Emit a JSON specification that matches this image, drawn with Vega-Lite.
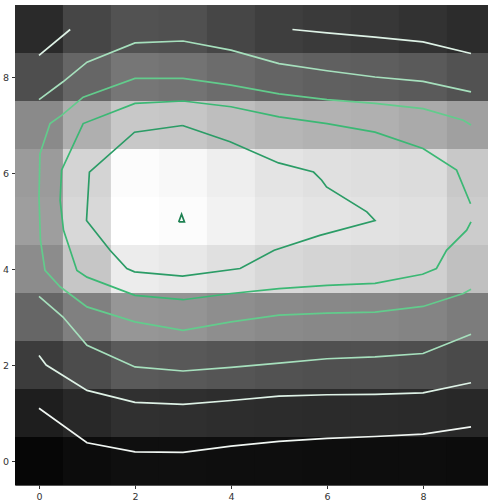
{
  "$schema": "https://vega.github.io/schema/vega-lite/v6.json",
  "autosize": "none",
  "padding": {"left": 15, "top": 5, "right": 0, "bottom": 16},
  "width": 473,
  "height": 480,
  "background": "white",
  "view": {"stroke": "#555", "strokeWidth": 1},
  "config": {
    "axis": {
      "grid": false,
      "domain": false,
      "ticks": true,
      "tickSize": 3.5,
      "tickColor": "#333",
      "labelColor": "#333",
      "labelFont": "DejaVu Sans",
      "labelFontSize": 9.5,
      "labelPadding": 3,
      "title": null
    }
  },
  "datasets": {
    "cells": [
      {"row":9,"col":0,"v":42},{"row":9,"col":1,"v":70},{"row":9,"col":2,"v":82},{"row":9,"col":3,"v":80},{"row":9,"col":4,"v":70},{"row":9,"col":5,"v":62},{"row":9,"col":6,"v":58},{"row":9,"col":7,"v":55},{"row":9,"col":8,"v":50},{"row":9,"col":9,"v":44},
      {"row":8,"col":0,"v":78},{"row":8,"col":1,"v":102},{"row":8,"col":2,"v":118},{"row":8,"col":3,"v":115},{"row":8,"col":4,"v":108},{"row":8,"col":5,"v":100},{"row":8,"col":6,"v":96},{"row":8,"col":7,"v":94},{"row":8,"col":8,"v":90},{"row":8,"col":9,"v":82},
      {"row":7,"col":0,"v":138},{"row":7,"col":1,"v":175},{"row":7,"col":2,"v":200},{"row":7,"col":3,"v":198},{"row":7,"col":4,"v":190},{"row":7,"col":5,"v":182},{"row":7,"col":6,"v":178},{"row":7,"col":7,"v":176},{"row":7,"col":8,"v":170},{"row":7,"col":9,"v":160},
      {"row":6,"col":0,"v":155},{"row":6,"col":1,"v":212},{"row":6,"col":2,"v":252},{"row":6,"col":3,"v":248},{"row":6,"col":4,"v":238},{"row":6,"col":5,"v":228},{"row":6,"col":6,"v":224},{"row":6,"col":7,"v":222},{"row":6,"col":8,"v":220},{"row":6,"col":9,"v":200},
      {"row":5,"col":0,"v":158},{"row":5,"col":1,"v":216},{"row":5,"col":2,"v":255},{"row":5,"col":3,"v":252},{"row":5,"col":4,"v":242},{"row":5,"col":5,"v":232},{"row":5,"col":6,"v":228},{"row":5,"col":7,"v":226},{"row":5,"col":8,"v":224},{"row":5,"col":9,"v":204},
      {"row":4,"col":0,"v":140},{"row":4,"col":1,"v":198},{"row":4,"col":2,"v":236},{"row":4,"col":3,"v":232},{"row":4,"col":4,"v":224},{"row":4,"col":5,"v":216},{"row":4,"col":6,"v":212},{"row":4,"col":7,"v":210},{"row":4,"col":8,"v":208},{"row":4,"col":9,"v":192},
      {"row":3,"col":0,"v":102},{"row":3,"col":1,"v":128},{"row":3,"col":2,"v":150},{"row":3,"col":3,"v":148},{"row":3,"col":4,"v":142},{"row":3,"col":5,"v":138},{"row":3,"col":6,"v":136},{"row":3,"col":7,"v":135},{"row":3,"col":8,"v":132},{"row":3,"col":9,"v":124},
      {"row":2,"col":0,"v":60},{"row":2,"col":1,"v":76},{"row":2,"col":2,"v":90},{"row":2,"col":3,"v":88},{"row":2,"col":4,"v":85},{"row":2,"col":5,"v":82},{"row":2,"col":6,"v":80},{"row":2,"col":7,"v":80},{"row":2,"col":8,"v":78},{"row":2,"col":9,"v":74},
      {"row":1,"col":0,"v":30},{"row":1,"col":1,"v":40},{"row":1,"col":2,"v":48},{"row":1,"col":3,"v":47},{"row":1,"col":4,"v":45},{"row":1,"col":5,"v":44},{"row":1,"col":6,"v":43},{"row":1,"col":7,"v":43},{"row":1,"col":8,"v":42},{"row":1,"col":9,"v":40},
      {"row":0,"col":0,"v":6},{"row":0,"col":1,"v":12},{"row":0,"col":2,"v":15},{"row":0,"col":3,"v":15},{"row":0,"col":4,"v":14},{"row":0,"col":5,"v":14},{"row":0,"col":6,"v":13},{"row":0,"col":7,"v":13},{"row":0,"col":8,"v":13},{"row":0,"col":9,"v":12}
    ],
    "contours": [
      {"c":"a","lvl":"L1","o":0,"x":0,"y":1.1},{"c":"a","lvl":"L1","o":1,"x":1,"y":0.38},{"c":"a","lvl":"L1","o":2,"x":2,"y":0.19},{"c":"a","lvl":"L1","o":3,"x":3,"y":0.18},{"c":"a","lvl":"L1","o":4,"x":4,"y":0.31},{"c":"a","lvl":"L1","o":5,"x":5,"y":0.41},{"c":"a","lvl":"L1","o":6,"x":6,"y":0.47},{"c":"a","lvl":"L1","o":7,"x":7,"y":0.51},{"c":"a","lvl":"L1","o":8,"x":8,"y":0.56},{"c":"a","lvl":"L1","o":9,"x":9,"y":0.71},
      {"c":"b","lvl":"L2","o":0,"x":0,"y":2.2},{"c":"b","lvl":"L2","o":1,"x":0.15,"y":2.0},{"c":"b","lvl":"L2","o":2,"x":1,"y":1.47},{"c":"b","lvl":"L2","o":3,"x":2,"y":1.22},{"c":"b","lvl":"L2","o":4,"x":3,"y":1.18},{"c":"b","lvl":"L2","o":5,"x":4,"y":1.26},{"c":"b","lvl":"L2","o":6,"x":5,"y":1.35},{"c":"b","lvl":"L2","o":7,"x":6,"y":1.38},{"c":"b","lvl":"L2","o":8,"x":7,"y":1.39},{"c":"b","lvl":"L2","o":9,"x":8,"y":1.42},{"c":"b","lvl":"L2","o":10,"x":9,"y":1.63},
      {"c":"c","lvl":"L2","o":0,"x":0,"y":8.45},{"c":"c","lvl":"L2","o":1,"x":0.65,"y":8.99},
      {"c":"d","lvl":"L2","o":0,"x":5.28,"y":8.99},{"c":"d","lvl":"L2","o":1,"x":6,"y":8.92},{"c":"d","lvl":"L2","o":2,"x":7,"y":8.83},{"c":"d","lvl":"L2","o":3,"x":8,"y":8.73},{"c":"d","lvl":"L2","o":4,"x":9,"y":8.49},
      {"c":"e","lvl":"L3","o":0,"x":0,"y":3.43},{"c":"e","lvl":"L3","o":1,"x":0.5,"y":3.0},{"c":"e","lvl":"L3","o":2,"x":1,"y":2.41},{"c":"e","lvl":"L3","o":3,"x":2,"y":1.96},{"c":"e","lvl":"L3","o":4,"x":3,"y":1.875},{"c":"e","lvl":"L3","o":5,"x":4,"y":1.95},{"c":"e","lvl":"L3","o":6,"x":5,"y":2.04},{"c":"e","lvl":"L3","o":7,"x":6,"y":2.13},{"c":"e","lvl":"L3","o":8,"x":7,"y":2.17},{"c":"e","lvl":"L3","o":9,"x":8,"y":2.24},{"c":"e","lvl":"L3","o":10,"x":9,"y":2.64},
      {"c":"f","lvl":"L3","o":0,"x":0,"y":7.53},{"c":"f","lvl":"L3","o":1,"x":0.5,"y":7.9},{"c":"f","lvl":"L3","o":2,"x":1,"y":8.31},{"c":"f","lvl":"L3","o":3,"x":2,"y":8.71},{"c":"f","lvl":"L3","o":4,"x":3,"y":8.75},{"c":"f","lvl":"L3","o":5,"x":4,"y":8.56},{"c":"f","lvl":"L3","o":6,"x":5,"y":8.28},{"c":"f","lvl":"L3","o":7,"x":6,"y":8.13},{"c":"f","lvl":"L3","o":8,"x":7,"y":8.0},{"c":"f","lvl":"L3","o":9,"x":8,"y":7.91},{"c":"f","lvl":"L3","o":10,"x":9,"y":7.69},
      {"c":"g","lvl":"L4","o":0,"x":9,"y":7.0},{"c":"g","lvl":"L4","o":1,"x":8.84,"y":7.1},{"c":"g","lvl":"L4","o":2,"x":8,"y":7.34},{"c":"g","lvl":"L4","o":3,"x":7,"y":7.45},{"c":"g","lvl":"L4","o":4,"x":6,"y":7.53},{"c":"g","lvl":"L4","o":5,"x":5,"y":7.65},{"c":"g","lvl":"L4","o":6,"x":4,"y":7.83},{"c":"g","lvl":"L4","o":7,"x":3,"y":7.97},{"c":"g","lvl":"L4","o":8,"x":2,"y":7.97},{"c":"g","lvl":"L4","o":9,"x":0.92,"y":7.58},{"c":"g","lvl":"L4","o":10,"x":0.47,"y":7.2},{"c":"g","lvl":"L4","o":11,"x":0.23,"y":7.03},{"c":"g","lvl":"L4","o":12,"x":0.02,"y":6.4},{"c":"g","lvl":"L4","o":13,"x":0.0,"y":5.5},{"c":"g","lvl":"L4","o":14,"x":0.03,"y":4.6},{"c":"g","lvl":"L4","o":15,"x":0.125,"y":3.97},{"c":"g","lvl":"L4","o":16,"x":0.44,"y":3.63},{"c":"g","lvl":"L4","o":17,"x":1,"y":3.21},{"c":"g","lvl":"L4","o":18,"x":2,"y":2.9},{"c":"g","lvl":"L4","o":19,"x":3,"y":2.72},{"c":"g","lvl":"L4","o":20,"x":4,"y":2.9},{"c":"g","lvl":"L4","o":21,"x":5,"y":3.04},{"c":"g","lvl":"L4","o":22,"x":6,"y":3.08},{"c":"g","lvl":"L4","o":23,"x":7,"y":3.1},{"c":"g","lvl":"L4","o":24,"x":8,"y":3.22},{"c":"g","lvl":"L4","o":25,"x":8.84,"y":3.49},{"c":"g","lvl":"L4","o":26,"x":9,"y":3.58},
      {"c":"h","lvl":"L5","o":0,"x":9.0,"y":4.98},{"c":"h","lvl":"L5","o":1,"x":8.91,"y":4.81},{"c":"h","lvl":"L5","o":2,"x":8.49,"y":4.39},{"c":"h","lvl":"L5","o":3,"x":8.28,"y":4.01},{"c":"h","lvl":"L5","o":4,"x":7.99,"y":3.89},{"c":"h","lvl":"L5","o":5,"x":7,"y":3.7},{"c":"h","lvl":"L5","o":6,"x":6,"y":3.66},{"c":"h","lvl":"L5","o":7,"x":5,"y":3.59},{"c":"h","lvl":"L5","o":8,"x":4,"y":3.49},{"c":"h","lvl":"L5","o":9,"x":3,"y":3.36},{"c":"h","lvl":"L5","o":10,"x":2,"y":3.45},{"c":"h","lvl":"L5","o":11,"x":1,"y":3.83},{"c":"h","lvl":"L5","o":12,"x":0.79,"y":3.97},{"c":"h","lvl":"L5","o":13,"x":0.65,"y":4.39},{"c":"h","lvl":"L5","o":14,"x":0.51,"y":4.81},{"c":"h","lvl":"L5","o":15,"x":0.44,"y":5.43},{"c":"h","lvl":"L5","o":16,"x":0.47,"y":6.06},{"c":"h","lvl":"L5","o":17,"x":0.92,"y":7.03},{"c":"h","lvl":"L5","o":18,"x":2,"y":7.45},{"c":"h","lvl":"L5","o":19,"x":3,"y":7.5},{"c":"h","lvl":"L5","o":20,"x":4,"y":7.38},{"c":"h","lvl":"L5","o":21,"x":5,"y":7.17},{"c":"h","lvl":"L5","o":22,"x":6,"y":7.03},{"c":"h","lvl":"L5","o":23,"x":7,"y":6.85},{"c":"h","lvl":"L5","o":24,"x":8,"y":6.51},{"c":"h","lvl":"L5","o":25,"x":8.7,"y":6.06},{"c":"h","lvl":"L5","o":26,"x":8.99,"y":5.36},
      {"c":"i","lvl":"L6","o":0,"x":2.99,"y":6.99},{"c":"i","lvl":"L6","o":1,"x":1.99,"y":6.85},{"c":"i","lvl":"L6","o":2,"x":1.05,"y":6.02},{"c":"i","lvl":"L6","o":3,"x":0.99,"y":5.01},{"c":"i","lvl":"L6","o":4,"x":1.48,"y":4.39},{"c":"i","lvl":"L6","o":5,"x":1.83,"y":4.01},{"c":"i","lvl":"L6","o":6,"x":1.99,"y":3.94},{"c":"i","lvl":"L6","o":7,"x":2.99,"y":3.85},{"c":"i","lvl":"L6","o":8,"x":4.19,"y":4.01},{"c":"i","lvl":"L6","o":9,"x":4.9,"y":4.39},{"c":"i","lvl":"L6","o":10,"x":5.85,"y":4.7},{"c":"i","lvl":"L6","o":11,"x":7.0,"y":5.01},{"c":"i","lvl":"L6","o":12,"x":6.83,"y":5.19},{"c":"i","lvl":"L6","o":13,"x":5.99,"y":5.71},{"c":"i","lvl":"L6","o":14,"x":5.89,"y":5.85},{"c":"i","lvl":"L6","o":15,"x":5.72,"y":6.02},{"c":"i","lvl":"L6","o":16,"x":4.99,"y":6.21},{"c":"i","lvl":"L6","o":17,"x":3.98,"y":6.65},{"c":"i","lvl":"L6","o":18,"x":2.99,"y":6.99},
      {"c":"j","lvl":"L7","o":0,"x":2.91,"y":4.98},{"c":"j","lvl":"L7","o":1,"x":3.03,"y":4.98},{"c":"j","lvl":"L7","o":2,"x":2.97,"y":5.14},{"c":"j","lvl":"L7","o":3,"x":2.91,"y":4.98}
    ]
  },
  "layer": [
    {
      "data": {"name": "cells"},
      "mark": {"type": "square", "size": 2320, "filled": true, "opacity": 1, "clip": true, "strokeWidth": 0},
      "encoding": {
        "x": {"field": "col", "type": "quantitative", "scale": {"domain": [-0.5, 9.354], "nice": false, "zero": false}, "axis": {"values": [0, 2, 4, 6, 8], "title": null}},
        "y": {"field": "row", "type": "quantitative", "scale": {"domain": [-0.5, 9.5], "nice": false, "zero": false}, "axis": {"values": [0, 2, 4, 6, 8], "title": null}},
        "color": {"field": "v", "type": "quantitative", "scale": {"domain": [0, 255], "range": ["#000000", "#ffffff"], "interpolate": "rgb"}, "legend": null}
      }
    },
    {
      "data": {"name": "contours"},
      "mark": {"type": "line", "strokeWidth": 1.7, "clip": true},
      "encoding": {
        "x": {"field": "x", "type": "quantitative"},
        "y": {"field": "y", "type": "quantitative"},
        "detail": {"field": "c"},
        "order": {"field": "o", "type": "quantitative"},
        "stroke": {"field": "lvl", "type": "nominal", "scale": {"domain": ["L1","L2","L3","L4","L5","L6","L7"], "range": ["#f0f6f2","#def2e6","#a6e0bd","#62cc8c","#3bb874","#2b9c66","#1e8152"]}, "legend": null}
      }
    }
  ]
}
